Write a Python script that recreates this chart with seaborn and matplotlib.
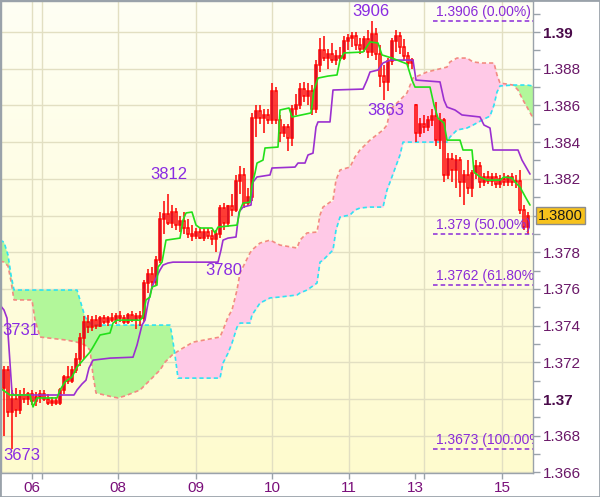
import numpy as np
import pandas as pd
import matplotlib
matplotlib.use("Agg")
import matplotlib.pyplot as plt
import seaborn as sns
from matplotlib.transforms import blended_transform_factory

# ---------------- data ----------------
opens = [1.3706, 1.3716, 1.3693, 1.3700, 1.3694, 1.3702, 1.3700, 1.3703, 1.3699, 1.3701,
         1.3703, 1.3700, 1.3698, 1.3699, 1.3698, 1.3705, 1.3712, 1.3710, 1.3716, 1.3722,
         1.3733, 1.3742, 1.3739, 1.3743, 1.3740, 1.3744, 1.3742, 1.3744, 1.3743, 1.3745,
         1.3744, 1.3742, 1.3746, 1.3743, 1.3745, 1.3744, 1.3763, 1.3768, 1.3764, 1.3776,
         1.3798, 1.3801, 1.3796, 1.3802, 1.3795, 1.3797, 1.3793, 1.3790, 1.3789, 1.3791,
         1.3788, 1.3791, 1.3789, 1.3787, 1.3790, 1.3804, 1.3796, 1.3805, 1.3803, 1.3819,
         1.3822, 1.3807, 1.3810, 1.3853, 1.3857, 1.3853, 1.3855, 1.3852, 1.3868, 1.3852,
         1.3845, 1.3848, 1.3842, 1.3858, 1.3860, 1.3869, 1.3865, 1.3868, 1.3858, 1.3882,
         1.3890, 1.3886, 1.3888, 1.3885, 1.3887, 1.3886, 1.3895, 1.3897, 1.3898, 1.3893,
         1.3891, 1.3896, 1.3889, 1.3899, 1.3888, 1.3876, 1.3873, 1.3884, 1.3895, 1.3898,
         1.3892, 1.3887, 1.3883, 1.3860, 1.3845, 1.3850, 1.3848, 1.3852, 1.3854, 1.3841,
         1.3852, 1.3822, 1.3831, 1.3825, 1.3830, 1.3818, 1.3822, 1.3815, 1.3823, 1.3827,
         1.3818, 1.3821, 1.3819, 1.3821, 1.3817, 1.3820, 1.3818, 1.3821, 1.3818, 1.3819,
         1.3803, 1.3794]
highs = [1.3718, 1.3718, 1.3705, 1.3706, 1.3705, 1.3706, 1.3704, 1.3705, 1.3704, 1.3705,
         1.3705, 1.3703, 1.3701, 1.3701, 1.3706, 1.3713, 1.3718, 1.3718, 1.3725, 1.3736,
         1.3745, 1.3746, 1.3745, 1.3746, 1.3745, 1.3746, 1.3745, 1.3747, 1.3747, 1.3748,
         1.3746, 1.3747, 1.3748, 1.3747, 1.3748, 1.3765, 1.3771, 1.3772, 1.3778, 1.3802,
         1.3808, 1.3812, 1.3806, 1.3804, 1.3800, 1.3802, 1.3798, 1.3795, 1.3793, 1.3794,
         1.3793, 1.3793, 1.3792, 1.3792, 1.3806, 1.3807, 1.3806, 1.3812, 1.3822, 1.3827,
         1.3826, 1.3815, 1.3856, 1.3860, 1.3860, 1.3858, 1.3858, 1.3872, 1.3870, 1.3855,
         1.3850, 1.3850, 1.3860, 1.3866, 1.3872, 1.3873, 1.3872, 1.3871, 1.3885, 1.3897,
         1.3898, 1.3891, 1.3894, 1.3890, 1.3892, 1.3898, 1.3899, 1.3900, 1.3900, 1.3897,
         1.3898, 1.3901, 1.3906, 1.3902, 1.3893, 1.3882, 1.3886, 1.3897, 1.3901, 1.3900,
         1.3896, 1.3889, 1.3886, 1.3861, 1.3853, 1.3855, 1.3854, 1.3858, 1.3862, 1.3856,
         1.3853, 1.3834, 1.3834, 1.3833, 1.3832, 1.3825, 1.3830, 1.3825, 1.3830, 1.3829,
         1.3823, 1.3824, 1.3823, 1.3823, 1.3822, 1.3823, 1.3822, 1.3823, 1.3822, 1.3825,
         1.3806, 1.3802]
lows = [1.3680, 1.3690, 1.3673, 1.3690, 1.3692, 1.3698, 1.3697, 1.3697, 1.3696, 1.3698,
        1.3699, 1.3697, 1.3696, 1.3697, 1.3697, 1.3703, 1.3708, 1.3709, 1.3714, 1.3718,
        1.3722, 1.3736, 1.3737, 1.3738, 1.3739, 1.3741, 1.3740, 1.3742, 1.3741, 1.3742,
        1.3741, 1.3741, 1.3742, 1.3738, 1.3740, 1.3742, 1.3758, 1.3760, 1.3762, 1.3774,
        1.3790, 1.3795, 1.3793, 1.3792, 1.3791, 1.3790, 1.3788, 1.3786, 1.3787, 1.3787,
        1.3786, 1.3787, 1.3784, 1.3780, 1.3788, 1.3792, 1.3794, 1.3800, 1.3802, 1.3812,
        1.3804, 1.3805, 1.3808, 1.3843, 1.3850, 1.3845, 1.3850, 1.3850, 1.3850, 1.3840,
        1.3843, 1.3835, 1.3838, 1.3855, 1.3858, 1.3862, 1.3860, 1.3855, 1.3856, 1.3878,
        1.3884, 1.3880, 1.3883, 1.3882, 1.3884, 1.3885, 1.3890, 1.3892, 1.3890, 1.3888,
        1.3889, 1.3886, 1.3887, 1.3885, 1.3870, 1.3863, 1.3868, 1.3882, 1.3889, 1.3888,
        1.3884, 1.3881, 1.3880, 1.3840, 1.3843, 1.3845, 1.3846, 1.3849, 1.3838, 1.3836,
        1.3818, 1.3820, 1.3818, 1.3815, 1.3810, 1.3806, 1.3812, 1.3810, 1.3820, 1.3815,
        1.3816, 1.3817, 1.3816, 1.3815, 1.3815, 1.3816, 1.3816, 1.3816, 1.3815, 1.3801,
        1.3792, 1.3790]
closes = [1.3716, 1.3693, 1.3700, 1.3694, 1.3702, 1.3700, 1.3703, 1.3699, 1.3701, 1.3703,
          1.3700, 1.3698, 1.3699, 1.3698, 1.3705, 1.3712, 1.3710, 1.3716, 1.3722, 1.3733,
          1.3742, 1.3739, 1.3743, 1.3740, 1.3744, 1.3742, 1.3744, 1.3743, 1.3745, 1.3744,
          1.3742, 1.3746, 1.3743, 1.3745, 1.3744, 1.3763, 1.3768, 1.3764, 1.3776, 1.3798,
          1.3801, 1.3796, 1.3802, 1.3795, 1.3797, 1.3793, 1.3790, 1.3789, 1.3791, 1.3788,
          1.3791, 1.3789, 1.3787, 1.3790, 1.3804, 1.3796, 1.3805, 1.3803, 1.3819, 1.3822,
          1.3807, 1.3810, 1.3853, 1.3857, 1.3853, 1.3855, 1.3852, 1.3868, 1.3852, 1.3845,
          1.3848, 1.3842, 1.3858, 1.3860, 1.3869, 1.3865, 1.3868, 1.3858, 1.3882, 1.3890,
          1.3886, 1.3888, 1.3885, 1.3887, 1.3886, 1.3895, 1.3897, 1.3898, 1.3893, 1.3891,
          1.3896, 1.3889, 1.3899, 1.3888, 1.3876, 1.3873, 1.3884, 1.3895, 1.3898, 1.3892,
          1.3887, 1.3883, 1.3885, 1.3845, 1.3850, 1.3848, 1.3852, 1.3854, 1.3841, 1.3852,
          1.3822, 1.3831, 1.3825, 1.3830, 1.3818, 1.3822, 1.3815, 1.3823, 1.3827, 1.3818,
          1.3821, 1.3819, 1.3821, 1.3817, 1.3820, 1.3818, 1.3821, 1.3818, 1.3819, 1.3803,
          1.3794, 1.3800]

tenkan_x = [-1.0, 1.5, 6.5, 7.25, 8.25, 13.25, 14.0, 15.25, 17.0, 18.25, 19.75, 21.5, 22.25,
            24.0, 26.5, 27.25, 28.25, 34.0, 34.75, 35.5, 36.5, 37.0, 38.25, 38.5, 39.5, 40.5,
            44.0, 44.75, 45.5, 47.0, 48.0, 49.0, 52.0, 52.75, 53.5, 58.25, 59.0, 59.75, 61.5,
            62.0, 62.75, 63.25, 64.75, 65.25, 68.5, 69.0, 71.25, 72.0, 76.75, 77.5, 78.5, 81.0,
            83.25, 84.0, 85.0, 89.75, 90.5, 91.5, 93.5, 94.5, 97.0, 100.75, 102.0, 102.75,
            106.5, 107.5, 108.5, 110.0, 110.75, 114.0, 114.75, 117.0, 117.5, 119.0, 120.75,
            124.0, 125.0, 127.0, 128.0, 129.0, 130.5, 131.5]
tenkan_y = [1.37060, 1.37022, 1.37022, 1.36957, 1.37006, 1.37006, 1.37049, 1.37093, 1.37120,
            1.37174, 1.37212, 1.37256, 1.37283, 1.37349, 1.37360, 1.37414, 1.37430, 1.37430,
            1.37447, 1.37540, 1.37556, 1.37610, 1.37621, 1.37719, 1.37746, 1.37866, 1.37877,
            1.37975, 1.38014, 1.38019, 1.37948, 1.37932, 1.37932, 1.37905, 1.37937, 1.37948,
            1.38030, 1.38068, 1.38073, 1.38166, 1.38232, 1.38286, 1.38302, 1.38368, 1.38373,
            1.38575, 1.38586, 1.38537, 1.38559, 1.38684, 1.38749, 1.38760, 1.38766, 1.38847,
            1.38886, 1.38891, 1.38913, 1.38946, 1.38940, 1.38875, 1.38858, 1.38826, 1.38738,
            1.38700, 1.38700, 1.38602, 1.38531, 1.38504, 1.38411, 1.38411, 1.38357, 1.38357,
            1.38237, 1.38210, 1.38193, 1.38193, 1.38210, 1.38204, 1.38177, 1.38155, 1.38095,
            1.38057]

kijun_x = [-1.0, 0.0, 0.75, 2.0, 2.5, 17.5, 18.25, 19.5, 20.5, 21.25, 22.25, 26.5, 32.25,
           33.25, 34.5, 35.25, 36.0, 37.0, 37.75, 39.0, 39.75, 41.0, 42.25, 53.5, 54.25, 54.75,
           56.0, 58.0, 58.75, 59.75, 61.75, 62.25, 63.25, 66.5, 67.0, 72.75, 73.5, 75.25, 76.0,
           77.25, 78.0, 78.5, 81.5, 82.25, 89.75, 90.75, 91.5, 93.5, 94.75, 96.5, 102.25, 103.0,
           109.0, 110.0, 110.75, 112.75, 114.5, 119.0, 120.0, 121.5, 122.25, 128.5, 129.5,
           130.5, 131.5]
kijun_y = [1.37512, 1.37485, 1.37441, 1.37033, 1.37022, 1.37022, 1.37049, 1.37082, 1.37103,
           1.37169, 1.37212, 1.37223, 1.37228, 1.37294, 1.37403, 1.37430, 1.37523, 1.37610,
           1.37648, 1.37703, 1.37730, 1.37741, 1.37746, 1.37746, 1.37812, 1.37866, 1.37877,
           1.37883, 1.38019, 1.38046, 1.38057, 1.38182, 1.38210, 1.38221, 1.38259, 1.38264,
           1.38286, 1.38286, 1.38330, 1.38340, 1.38482, 1.38510, 1.38510, 1.38684, 1.38689,
           1.38738, 1.38782, 1.38793, 1.38831, 1.38847, 1.38847, 1.38738, 1.38728, 1.38629,
           1.38591, 1.38575, 1.38548, 1.38537, 1.38493, 1.38477, 1.38357, 1.38357, 1.38302,
           1.38264, 1.38226]

cloud_x = [-1.0, 0.0, 1.0, 1.75, 2.5, 7.0, 7.75, 9.0, 15.75, 18.25, 19.0, 20.25, 21.5, 22.25,
           23.0, 27.25, 28.5, 30.25, 34.0, 36.5, 39.0, 40.25, 41.5, 42.0, 42.75, 43.5, 44.75,
           47.25, 54.0, 54.75, 56.0, 57.0, 58.25, 59.0, 61.5, 62.0, 64.0, 66.5, 69.0, 73.25,
           74.0, 75.75, 78.25, 79.0, 79.75, 82.25, 83.0, 84.0, 86.5, 87.75, 89.0, 91.5, 94.75,
           95.75, 96.5, 99.0, 99.75, 100.75, 102.25, 105.75, 110.75, 111.5, 113.25, 115.75,
           117.25, 119.5, 121.5, 122.5, 123.25, 124.0, 127.25, 128.5, 129.75, 130.75, 132.25]
span_a = [1.37752, 1.37746, 1.37725, 1.37643, 1.37540, 1.37540, 1.37430, 1.37338, 1.37321,
          1.37310, 1.37305, 1.37294, 1.37267, 1.37131, 1.37033, 1.37011, 1.37006, 1.37017,
          1.37049, 1.37103, 1.37158, 1.37201, 1.37228, 1.37239, 1.37250, 1.37261, 1.37278,
          1.37310, 1.37338, 1.37376, 1.37447, 1.37485, 1.37594, 1.37687, 1.37796, 1.37812,
          1.37850, 1.37866, 1.37839, 1.37823, 1.37866, 1.37905, 1.37910, 1.38003, 1.38046,
          1.38084, 1.38193, 1.38248, 1.38264, 1.38319, 1.38357, 1.38411, 1.38466, 1.38493,
          1.38575, 1.38629, 1.38646, 1.38668, 1.38749, 1.38782, 1.38809, 1.38837, 1.38858,
          1.38858, 1.38837, 1.38831, 1.38831, 1.38831, 1.38766, 1.38722, 1.38711, 1.38684,
          1.38629, 1.38591, 1.38531]
span_b = [1.37866, 1.37855, 1.37785, 1.37676, 1.37594, 1.37594, 1.37594, 1.37594, 1.37594,
          1.37594, 1.37540, 1.37447, 1.37414, 1.37403, 1.37403, 1.37403, 1.37403, 1.37403,
          1.37403, 1.37403, 1.37403, 1.37403, 1.37403, 1.37349, 1.37239, 1.37114, 1.37114,
          1.37114, 1.37114, 1.37196, 1.37250, 1.37305, 1.37392, 1.37414, 1.37414, 1.37458,
          1.37523, 1.37551, 1.37556, 1.37567, 1.37578, 1.37594, 1.37632, 1.37746, 1.37757,
          1.37812, 1.37921, 1.37992, 1.38003, 1.38030, 1.38041, 1.38046, 1.38046, 1.38139,
          1.38182, 1.38330, 1.38400, 1.38400, 1.38400, 1.38400, 1.38400, 1.38428, 1.38466,
          1.38477, 1.38493, 1.38520, 1.38542, 1.38602, 1.38673, 1.38706, 1.38711, 1.38711,
          1.38711, 1.38711, 1.38706]

fib_levels = [1.3906, 1.3790, 1.3762, 1.3673]
fib_labels = ["1.3906 (0.00%)", "1.379 (50.00%)", "1.3762 (61.80%)", "1.3673 (100.00%)"]
fib_start = 107.25

extreme_labels = ["3906", "3863", "3812", "3780", "3731", "3673"]
extreme_x = [91.75, 95.5, 41.25, 55.0, 4.25, 4.5]
extreme_y = [1.39114, 1.38575, 1.38221, 1.37703, 1.37376, 1.36695]

date_ticks = [7, 28.5, 48, 67, 86.25, 102.75, 124.5]
date_labels = ["06", "08", "09", "10", "11", "13", "15"]
grid_x = [7, 9.5, 28.5, 48, 67, 86.25, 105, 124.5]

price_ticks = [1.366, 1.368, 1.370, 1.372, 1.374, 1.376, 1.378, 1.380,
               1.382, 1.384, 1.386, 1.388, 1.390]
# the 1.38 label sits under the current-price box in the reference
price_labels = ["1.366", "1.368", "1.37", "1.372", "1.374", "1.376", "1.378", "",
                "1.382", "1.384", "1.386", "1.388", "1.39"]
bold_labels = ["1.37", "1.39"]
current_price = 1.3800
current_label = "1.3800"

# ---------------- style ----------------
sns.set_style("white")
plt.rcParams['font.family'] = ['Liberation Sans', 'DejaVu Sans']

fig = plt.figure(figsize=(6.0, 4.97), dpi=100)
fig.patch.set_facecolor('white')
ax = fig.add_axes([1/600, 24/497, 532/600, 472/497])

XMIN, XMAX = -0.75, 132.25
YMIN, YMAX = 1.36597, 1.39169

# background gradient
top = np.array([255, 255, 244]) / 255
bot = np.array([254, 251, 206]) / 255
t = np.linspace(0, 1, 256)[:, None]
grad = (top * (1 - t) + bot * t)[:, None, :]
ax.imshow(grad, extent=(0, 1, 0, 1), transform=ax.transAxes, aspect='auto',
          zorder=0, interpolation='bilinear')

gcol = '#e2dfc2'
for p in price_ticks:
    ax.axhline(p, color=gcol, lw=1, zorder=1)
for gx in grid_x:
    ax.axvline(gx, color=gcol, lw=1, zorder=1)

# cloud
cdf = pd.DataFrame({'x': cloud_x, 'a': span_a, 'b': span_b})
ax.fill_between(cdf['x'], cdf['a'], cdf['b'], where=cdf['a'] >= cdf['b'],
                interpolate=True, color='#ffc9e7', lw=0, zorder=2)
ax.fill_between(cdf['x'], cdf['a'], cdf['b'], where=cdf['b'] > cdf['a'],
                interpolate=True, color='#b2f79a', lw=0, zorder=2)
sns.lineplot(data=cdf, x='x', y='a', ax=ax, color='#f38a82', lw=1.2,
             linestyle=(0, (2.5, 1.8)), sort=False, estimator=None, zorder=3)
sns.lineplot(data=cdf, x='x', y='b', ax=ax, color='#2fe3f2', lw=1.2,
             linestyle=(0, (2.5, 1.8)), sort=False, estimator=None, zorder=3)

# candles
o = np.array(opens); h = np.array(highs); l = np.array(lows); c = np.array(closes)
xi = np.arange(len(o))
btop = np.maximum(o, c); bbot = np.minimum(o, c)
ax.vlines(xi, l, bbot, color='#ff0000', lw=1.1, zorder=5)
ax.vlines(xi, btop, h, color='#ff0000', lw=1.1, zorder=5)
faces = ['#6b4c9c' if cc > oo else 'none' for oo, cc in zip(o, c)]
ax.bar(xi, btop - bbot, bottom=bbot, width=0.55, color=faces,
       edgecolor='#ff0000', linewidth=1.1, zorder=6)

# tenkan / kijun
tdf = pd.DataFrame({'x': tenkan_x, 'y': tenkan_y})
kdf = pd.DataFrame({'x': kijun_x, 'y': kijun_y})
sns.lineplot(data=kdf, x='x', y='y', ax=ax, color='#9b30d0', lw=1.2,
             sort=False, estimator=None, zorder=7)
sns.lineplot(data=tdf, x='x', y='y', ax=ax, color='#22e01a', lw=1.2,
             sort=False, estimator=None, zorder=8)

# fibonacci levels
fcol = '#8a2bd8'
ax.hlines(fib_levels, fib_start, XMAX, colors=fcol, linestyles=(0, (3, 2)), lw=1.1, zorder=9)
for lv, lb in zip(fib_levels, fib_labels):
    ax.annotate(lb, (fib_start + 0.75, lv), xytext=(0, 1.5), textcoords='offset points',
                ha='left', va='bottom', fontsize=10, color=fcol, zorder=10,
                annotation_clip=False, clip_on=True)

# extreme labels
for lb, ex, ey in zip(extreme_labels, extreme_x, extreme_y):
    ax.text(ex, ey, lb, ha='center', va='center', fontsize=12, color='#8a2be2', zorder=10)

ax.set_xlim(XMIN, XMAX)
ax.set_ylim(YMIN, YMAX)
ax.set_xlabel('')
ax.set_ylabel('')

# axes ticks
ax.yaxis.tick_right()
ax.set_yticks(price_ticks)
ax.set_yticklabels(price_labels)
ax.set_yticks(np.arange(1.366, 1.3915, 0.001), minor=True)
ax.set_xticks(date_ticks)
ax.set_xticklabels(date_labels)
ax.set_xticks([9.5, 105], minor=True)
scol = '#9aa2aa'
ax.tick_params(axis='y', which='both', direction='out', length=5, width=1, color=scol,
               labelsize=11, labelcolor='#6a1868', pad=2, left=False, right=True)
ax.tick_params(axis='x', which='both', direction='out', length=4, width=1, color=scol,
               labelsize=11, labelcolor='#7a0f7a', pad=2, bottom=True)
for tl in ax.get_yticklabels():
    if tl.get_text() in bold_labels:
        tl.set_fontweight('bold')
        tl.set_color('#4a0a4a')
for sp in ax.spines.values():
    sp.set_color(scol)
    sp.set_linewidth(1)

# current price box
tr = blended_transform_factory(ax.transAxes, ax.transData)
ax.text(1.0 + 5/532, current_price, current_label, transform=tr, ha='left', va='center',
        fontsize=10.5, color='#1a1a1a', zorder=20, clip_on=False,
        bbox=dict(boxstyle='square,pad=0.12', fc='#f7c21c', ec='#8c8c8c', lw=1))

fig.add_artist(plt.Rectangle((0, 0), 1, 1, transform=fig.transFigure, fill=False,
                             ec=scol, lw=2))

fig.savefig('out.png', dpi=100, facecolor='white')
